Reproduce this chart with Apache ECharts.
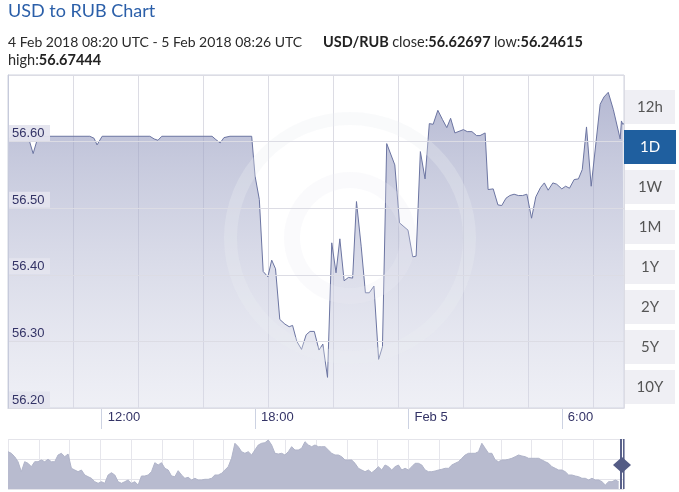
<!DOCTYPE html>
<html>
<head>
<meta charset="utf-8">
<script src="https://cdn.jsdelivr.net/npm/echarts@6/dist/echarts.min.js"></script>
<style>
html,body{margin:0;padding:0;background:#fff;}
#chart{width:679px;height:492px;}
</style>
</head>
<body>
<div id="chart"></div>
<script>
// ---- text ----
const titleText = 'USD to RUB Chart';
const rangeText = '4 Feb 2018 08:20 UTC - 5 Feb 2018 08:26 UTC';
const pairText = 'USD/RUB';
const closeText = '56.62697';
const lowText = '56.24615';
const highText = '56.67444';
const rangeButtons = ['12h', '1D', '1W', '1M', '1Y', '2Y', '5Y', '10Y'];
const selectedButton = '1D';

// ---- x axis labels ----
const xLabelTimes = ['4 12:00', '4 18:00', '5 00:00', '5 06:00'];
const xLabelTexts = ['12:00', '18:00', 'Feb 5', '6:00'];
const xRange = ['4 08:20', '5 08:26'];

// ---- y axis ----
const yMin = 56.2, yMax = 56.7, yStep = 0.1;
const yLabelVals = [56.2, 56.3, 56.4, 56.5, 56.6];

// ---- main series (UTC day hh:mm, rate) ----
const times = ['4 08:20','4 08:29','4 09:07','4 09:19','4 09:30','4 09:47','4 11:32','4 11:42','4 11:49','4 12:01',
'4 13:53','4 14:03','4 14:12','4 14:21','4 16:19','4 16:28','4 16:38','4 16:47','4 17:01','4 17:52',
'4 18:00','4 18:10','4 18:19','4 18:30','4 18:39','4 18:48','4 18:58','4 19:10','4 19:20','4 19:28',
'4 19:38','4 19:49','4 20:00','4 20:09','4 20:19','4 20:30','4 20:39','4 20:50','4 21:00','4 21:10',
'4 21:19','4 21:29','4 21:39','4 21:49','4 21:58','4 22:09','4 22:19','4 22:28','4 22:39','4 22:50',
'4 22:59','4 23:09','4 23:28','4 23:39','4 23:59','5 00:10','5 00:18','5 00:28','5 00:39','5 00:49',
'5 00:58','5 01:09','5 01:20','5 01:30','5 01:39','5 01:49','5 02:09','5 02:18','5 02:29','5 02:40',
'5 02:48','5 03:00','5 03:07','5 03:19','5 03:30','5 03:39','5 03:49','5 03:58','5 04:08','5 04:18',
'5 04:28','5 04:38','5 04:49','5 04:59','5 05:10','5 05:19','5 05:28','5 05:39','5 05:48','5 06:00',
'5 06:09','5 06:18','5 06:29','5 06:39','5 06:48','5 06:58','5 07:09','5 07:30','5 07:39','5 07:49',
'5 08:01','5 08:17','5 08:20','5 08:23','5 08:26'];
const rates = [56.603,56.608,56.608,56.582,56.606,56.608,56.608,56.605,56.595,56.608,
56.608,56.604,56.602,56.608,56.608,56.603,56.598,56.606,56.608,56.608,
56.548,56.513,56.405,56.397,56.422,56.409,56.333,56.326,56.322,56.324,
56.300,56.288,56.310,56.315,56.315,56.287,56.296,56.246,56.448,56.403,
56.454,56.391,56.396,56.395,56.510,56.443,56.373,56.373,56.383,56.273,
56.292,56.597,56.565,56.478,56.467,56.427,56.428,56.585,56.544,56.627,
56.626,56.647,56.633,56.621,56.635,56.613,56.618,56.615,56.615,56.609,
56.609,56.613,56.528,56.529,56.505,56.504,56.515,56.519,56.521,56.519,
56.519,56.521,56.485,56.517,56.531,56.538,56.527,56.538,56.536,56.529,
56.533,56.530,56.543,56.544,56.558,56.622,56.533,56.656,56.667,56.674,
56.648,56.604,56.631,56.626,56.627];

// ---- navigator (overview) series, relative level ----
const navValues = [37.3,35.7,32.3,27.3,17.3,27.3,25.7,22.3,27.3,27.3,29,27.3,29.7,27.3,27.3,34,35.7,32.3,35,20.7,
19,17.3,19,14,12.3,10.7,7.3,5.7,7.3,5.7,14,16.3,14,7.3,5.7,7.3,9,5.7,7.3,4,
13,13,14,17.3,26.3,24,26.3,20.7,19,13,12.3,18.3,14,10.7,11.7,9,10.7,9,9,9.7,
9.7,10.7,14,14,15.7,19,22.3,
30.7,45.7,42.3,37.3,35.7,37.3,34,39,44,45.7,46.3,49,44,35.7,35,35.7,34,37.3,42.3,39,
39,40.7,47.3,44,42.3,44,42.3,42.3,42.3,39,35.7,34,34,32.3,29,29,29,25.7,20.7,19,
17.3,19,16.3,19,22.3,19,24,22.3,19,22.3,24,19,20.7,19,22.3,25.7,25.7,24,19,17.3,
17.3,18,19,19.7,20.7,20.7,
24,25.7,27.3,30.7,34,35.7,35.7,35.7,37.3,45.7,40.7,35.7,35.7,29,27.3,29,29,29.7,30.7,32.3,
34,33,32.3,30.7,30.7,30.7,30.7,29,27.3,25.7,22.3,20.7,19,19,17.3,14,14,13,12.3,10.7,
10.7,9,10.7,9,9,7.3,4,7.3,7.3,9,7.3];

function parseT(s) {
  const [d, hm] = s.split(' ');
  const [h, m] = hm.split(':').map(Number);
  return Date.UTC(2018, 1, Number(d), h, m);
}

const mainData = times.map((t, i) => [parseT(t), rates[i]]);
const navData = navValues.map((v, i) => [i, v]);
const labelVals = xLabelTimes.map(parseT);

const PL = 8, PT = 75, PW = 616, PH = 333;
const NT = 439, NH = 50;

const chart = echarts.init(document.getElementById('chart'), null, {renderer: 'canvas'});

const graphics = [];
// header
graphics.push({type: 'text', left: 8, top: 2, z: 20, style: {text: titleText, font: '18px Lato', fill: '#2b5fa9'}});
graphics.push({type: 'text', x: 8, y: 35, z: 20, style: {text: rangeText, font: '14px Lato', fill: '#2a2a2a'}});
graphics.push({type: 'text', x: 323, y: 35, z: 20, style: {
  text: '{b|' + pairText + '} {n|close:}{b|' + closeText + '} {n|low:}{b|' + lowText + '}',
  rich: {b: {font: 'bold 14.5px Lato', fill: '#222222'}, n: {font: '14.5px Lato', fill: '#2a2a2a'}}
}});
graphics.push({type: 'text', x: 8, y: 53, z: 20, style: {
  text: '{n|high:}{b|' + highText + '}',
  rich: {b: {font: 'bold 14.5px Lato', fill: '#222222'}, n: {font: '14.5px Lato', fill: '#2a2a2a'}}
}});

// watermark
graphics.push({type: 'ring', z: 5, silent: true, shape: {cx: 350, cy: 238, r: 126, r0: 113}, style: {fill: 'rgba(236,237,243,0.3)'}});
graphics.push({type: 'ring', z: 5, silent: true, shape: {cx: 350, cy: 238, r: 66, r0: 50}, style: {fill: 'rgba(236,237,243,0.25)'}});

// range buttons
rangeButtons.forEach((b, i) => {
  const sel = b === selectedButton;
  const y = 90 + 40 * i;
  graphics.push({type: 'rect', z: 20, shape: {x: sel ? 624 : 625, y: y, width: sel ? 52 : 50, height: 34},
    style: {fill: sel ? '#1f5f9f' : '#efeff4'}});
  graphics.push({type: 'text', z: 21, x: 650, y: y + 17,
    style: {text: b, font: '15px Lato', fill: sel ? '#ffffff' : '#555555', align: 'center', verticalAlign: 'middle'}});
});

// navigator handle
graphics.push({type: 'rect', z: 20, shape: {x: 620, y: NT, width: 2, height: NH}, style: {fill: '#59618a'}});
graphics.push({type: 'rect', z: 20, shape: {x: 623, y: NT, width: 1.5, height: NH}, style: {fill: '#59618a'}});
graphics.push({type: 'polygon', z: 21, shape: {points: [[622, 457], [631, 465], [622, 473], [613, 465]]}, style: {fill: '#545c85'}});

const option = {
  animation: false,
  backgroundColor: '#ffffff',
  grid: [
    {left: PL, top: PT, width: PW, height: PH, show: true, borderColor: '#cfd2de', borderWidth: 1, backgroundColor: 'transparent'},
    {left: PL, top: NT, width: PW, height: NH, show: false}
  ],
  xAxis: [
    {
      type: 'value', gridIndex: 0,
      min: parseT(xRange[0]), max: parseT(xRange[1]),
      axisLine: {show: true, lineStyle: {color: '#c6cadb'}},
      axisTick: {show: true, customValues: labelVals, length: 21, lineStyle: {color: '#ccd2e2'}},
      axisLabel: {
        customValues: labelVals,
        formatter: v => xLabelTexts[labelVals.indexOf(v)] || '',
        align: 'left', padding: [0, 0, 0, 6], margin: 3,
        fontFamily: 'Liberation Sans', fontSize: 13, color: '#333366'
      },
      splitLine: {show: false}
    },
    {
      type: 'value', gridIndex: 0, position: 'top',
      min: 0, max: PW / 65, interval: 1,
      axisLine: {show: false}, axisTick: {show: false}, axisLabel: {show: false},
      splitLine: {show: true, lineStyle: {color: '#dcdce4', width: 1}}
    },
    {
      type: 'value', gridIndex: 1,
      min: 0, max: 184.6, interval: 9.23,
      axisLine: {show: false}, axisTick: {show: false}, axisLabel: {show: false},
      splitLine: {show: true, lineStyle: {color: '#e6e6ec', width: 1}}
    }
  ],
  yAxis: [
    {
      type: 'value', gridIndex: 0, z: 10,
      min: yMin, max: yMax, interval: yStep,
      axisLine: {show: true, lineStyle: {color: '#c6cadb'}},
      axisTick: {show: false},
      axisLabel: {
        inside: true, margin: 0, align: 'left', verticalAlign: 'bottom',
        formatter: v => v.toFixed(2), showMaxLabel: false,
        fontFamily: 'Liberation Sans', fontSize: 13, color: '#333366', lineHeight: 14,
        padding: [1, 4, 1, 4]
      },
      splitLine: {show: true, lineStyle: {color: '#dcdce4', width: 1}}
    },
    {
      type: 'value', gridIndex: 1, min: 0, max: 50,
      axisLine: {show: false}, axisTick: {show: false}, axisLabel: {show: false}, splitLine: {show: false}
    },
    {
      type: 'value', gridIndex: 1, inverse: true, min: 0, max: 2.5, interval: 1,
      axisLine: {show: false}, axisTick: {show: false}, axisLabel: {show: false},
      splitLine: {show: true, lineStyle: {color: '#e4e4ea', width: 1}}
    }
  ],
  series: [
    {
      type: 'line', xAxisIndex: 0, yAxisIndex: 0, data: mainData,
      showSymbol: false, symbol: 'none', z: 3,
      lineStyle: {color: '#6c75a2', width: 1},
      areaStyle: {
        origin: 'start', opacity: 1,
        color: {type: 'linear', x: 0, y: PT, x2: 0, y2: PT + PH, global: true,
          colorStops: [
            {offset: 0, color: 'rgba(150,155,192,0.75)'},
            {offset: 0.25, color: 'rgba(160,165,198,0.6)'},
            {offset: 1, color: 'rgba(215,217,232,0.4)'}
          ]}
      }
    },
    {
      type: 'line', xAxisIndex: 2, yAxisIndex: 1, data: navData,
      showSymbol: false, symbol: 'none',
      lineStyle: {color: '#b0b4c9', width: 1},
      areaStyle: {origin: 'start', color: '#b8bbcf', opacity: 1}
    }
  ],
  graphic: graphics
};
chart.setOption(option);

// label boxes behind the y-axis labels, positioned through the axis scale
const boxes = yLabelVals.map(v => {
  const py = chart.convertToPixel({yAxisIndex: 0}, v);
  return {type: 'rect', z: 9, silent: true, shape: {x: PL + 0.5, y: py - 16.5, width: 41.5, height: 16},
    style: {fill: 'rgba(228,228,238,0.95)'}};
});
chart.setOption({graphic: graphics.concat(boxes)});
</script>
</body>
</html>
